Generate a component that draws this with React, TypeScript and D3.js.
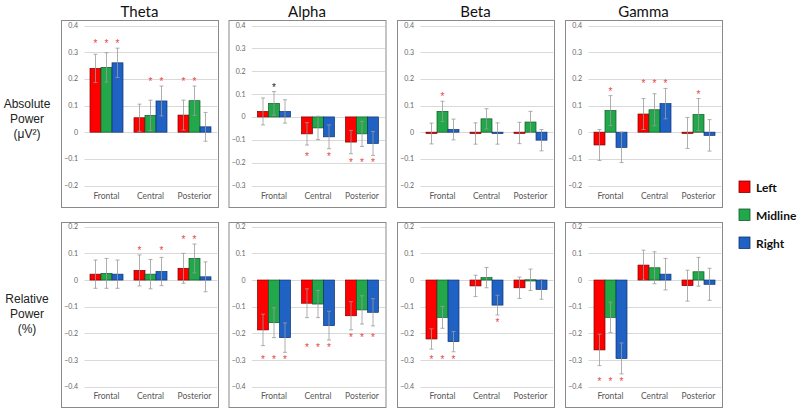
import React from "react";
import * as d3 from "d3";

const bands = ["Theta", "Alpha", "Beta", "Gamma"];
const regions = ["Frontal", "Central", "Posterior"];
const hemis = ["Left", "Midline", "Right"];
const hemiColors = ["#ff0000", "#22a84a", "#1f62c4"];
const hemiStroke = ["#7a0000", "#0f5a27", "#0f336e"];

// values ordered Frontal(L,M,R), Central(L,M,R), Posterior(L,M,R)
const absTheta = [0.239, 0.243, 0.26, 0.054, 0.063, 0.117, 0.064, 0.118, 0.02];
const absThetaErr = [0.053, 0.055, 0.055, 0.051, 0.057, 0.056, 0.056, 0.055, 0.054];
const absThetaSig = ["*", "*", "*", "", "*", "*", "*", "*", ""];

const absAlpha = [0.024, 0.059, 0.024, -0.074, -0.048, -0.087, -0.11, -0.074, -0.116];
const absAlphaErr = [0.059, 0.052, 0.051, 0.049, 0.051, 0.052, 0.051, 0.055, 0.052];
const absAlphaSig = ["", "#", "", "*", "", "*", "*", "*", "*"];

const absBeta = [-0.005, 0.078, 0.01, -0.005, 0.05, -0.005, -0.003, 0.038, -0.03];
const absBetaErr = [0.039, 0.038, 0.039, 0.04, 0.038, 0.04, 0.04, 0.04, 0.04];
const absBetaSig = ["", "*", "", "", "", "", "", "", ""];

const absGamma = [-0.048, 0.081, -0.057, 0.068, 0.084, 0.107, -0.003, 0.066, -0.012];
const absGammaErr = [0.058, 0.056, 0.057, 0.058, 0.06, 0.057, 0.058, 0.06, 0.059];
const absGammaSig = ["", "*", "", "*", "*", "*", "", "*", ""];

const relTheta = [0.022, 0.025, 0.022, 0.036, 0.022, 0.032, 0.044, 0.081, 0.012];
const relThetaErr = [0.053, 0.056, 0.053, 0.058, 0.055, 0.053, 0.056, 0.054, 0.056];
const relThetaSig = ["", "", "", "*", "", "*", "*", "*", ""];

const relAlpha = [-0.187, -0.16, -0.216, -0.087, -0.09, -0.171, -0.134, -0.112, -0.121];
const relAlphaErr = [0.059, 0.056, 0.055, 0.054, 0.051, 0.054, 0.053, 0.053, 0.051];
const relAlphaSig = ["*", "*", "*", "*", "*", "*", "*", "*", "*"];

const relBeta = [-0.221, -0.14, -0.231, -0.022, 0.009, -0.094, -0.029, 0.001, -0.035];
const relBetaErr = [0.038, 0.041, 0.038, 0.04, 0.038, 0.037, 0.04, 0.04, 0.037];
const relBetaSig = ["*", "*", "*", "", "", "*", "", "", ""];

const relGamma = [-0.262, -0.14, -0.294, 0.056, 0.046, 0.022, -0.021, 0.031, -0.016];
const relGammaErr = [0.059, 0.057, 0.058, 0.056, 0.06, 0.059, 0.058, 0.054, 0.06];
const relGammaSig = ["*", "*", "*", "", "", "", "", "", ""];

const absDomains = [[-0.2, 0.4], [-0.3, 0.4], [-0.2, 0.4], [-0.2, 0.4]];
const relDomain = [-0.4, 0.2];

const absRow = [
  [absTheta, absThetaErr, absThetaSig],
  [absAlpha, absAlphaErr, absAlphaSig],
  [absBeta, absBetaErr, absBetaSig],
  [absGamma, absGammaErr, absGammaSig],
];
const relRow = [
  [relTheta, relThetaErr, relThetaSig],
  [relAlpha, relAlphaErr, relAlphaSig],
  [relBeta, relBetaErr, relBetaSig],
  [relGamma, relGammaErr, relGammaSig],
];

const fmt = (v: number) => (Math.abs(v) < 1e-9 ? "0" : d3.format(".1f")(v));

function Panel({ x0, top, bottom, yTop, yBot, domain, vals, errs, sigs }: any) {
  const boxW = 157;
  const plotL = x0 + 23.5;
  const plotR = x0 + 155.5;
  const y = d3.scaleLinear().domain(domain).range([yBot, yTop]);
  const xb = d3.scaleBand().domain(regions).range([plotL, plotR]).padding(0);
  const xs = d3.scaleBand().domain(hemis).range([0, xb.bandwidth()]).paddingOuter(0.5).paddingInner(0);
  const ticks = d3.range(Math.round(domain[0] * 10), Math.round(domain[1] * 10) + 1).map((d) => d / 10);

  const items = regions.flatMap((r, ri) =>
    hemis.map((h, hi) => {
      const k = ri * 3 + hi;
      return { r, ri, h, hi, v: vals[k], e: errs[k], s: sigs[k] };
    })
  );

  // asterisk rows per region
  const starY: Record<string, number> = {};
  regions.forEach((r) => {
    const flagged = items.filter((it) => it.r === r && it.s);
    if (!flagged.length) return;
    const pos = flagged.filter((f) => f.v >= 0);
    const neg = flagged.filter((f) => f.v < 0);
    if (pos.length) starY[r + "+"] = d3.min(pos, (f) => y(f.v + f.e))! - 6;
    if (neg.length) starY[r + "-"] = d3.max(neg, (f) => y(f.v - f.e))! + 6;
  });

  return (
    <g>
      <rect x={x0 + 0.5} y={top + 0.5} width={boxW} height={bottom - top} fill="#fff" stroke="#8a8a8a" strokeWidth={1} />
      {ticks.map((t) => (
        <g key={t}>
          <line x1={plotL} x2={x0 + boxW - 0.5} y1={Math.round(y(t)) + 0.5} y2={Math.round(y(t)) + 0.5} stroke="#d9d9d9" strokeWidth={1} />
          <text x={x0 + 17} y={y(t) + 2.5} textAnchor="end" fontSize={7} fill="#666" fontFamily="Lato, sans-serif">
            {fmt(t)}
          </text>
        </g>
      ))}
      {regions.map((r) => (
        <text key={r} x={xb(r)! + xb.bandwidth() / 2} y={bottom - 8} textAnchor="middle" fontSize={8.5} fill="#595959" fontFamily="Lato, sans-serif">
          {r}
        </text>
      ))}
      {items.map((it) => {
        const bx = xb(it.r)! + xs(it.h)!;
        const y0 = y(0);
        const y1 = y(it.v);
        return (
          <rect
            key={"b" + it.r + it.h}
            x={bx}
            y={Math.min(y0, y1)}
            width={xs.bandwidth()}
            height={Math.max(1.2, Math.abs(y1 - y0))}
            fill={hemiColors[it.hi]}
            stroke={hemiStroke[it.hi]}
            strokeWidth={0.7}
          />
        );
      })}
      {items.map((it) => {
        const cx = xb(it.r)! + xs(it.h)! + xs.bandwidth() / 2;
        const ya = y(it.v + it.e);
        const yb = y(it.v - it.e);
        return (
          <g key={"e" + it.r + it.h} stroke="#9a9a9a" strokeWidth={0.8}>
            <line x1={cx} x2={cx} y1={ya} y2={yb} />
            <line x1={cx - 2} x2={cx + 2} y1={ya} y2={ya} />
            <line x1={cx - 2} x2={cx + 2} y1={yb} y2={yb} />
          </g>
        );
      })}
      {items
        .filter((it) => it.s)
        .map((it) => {
          const cx = xb(it.r)! + xs(it.h)! + xs.bandwidth() / 2;
          const cy = starY[it.r + (it.v >= 0 ? "+" : "-")];
          return (
            <text
              key={"s" + it.r + it.h}
              x={cx}
              y={cy + 5}
              textAnchor="middle"
              fontSize={10}
              fill={it.s === "#" ? "#222" : "#e8453c"}
              fontFamily="Liberation Sans, Arial, sans-serif"
            >
              *
            </text>
          );
        })}
    </g>
  );
}

export default function App() {
  const boxX = [61, 228.5, 397, 565];
  return (
    <svg width={800} height={410} style={{ position: "absolute", left: 0, top: 0, background: "#fff" }}>
      <rect width={800} height={410} fill="#fff" />
      {bands.map((b, i) => (
        <text key={b} x={boxX[i] + 78.5} y={17} textAnchor="middle" fontSize={15} fill="#111" fontFamily="Lato, sans-serif">
          {b}
        </text>
      ))}
      {bands.map((b, i) => (
        <Panel
          key={"a" + b}
          x0={boxX[i]}
          top={20}
          bottom={207}
          yTop={25.5}
          yBot={185.5}
          domain={absDomains[i]}
          vals={absRow[i][0]}
          errs={absRow[i][1]}
          sigs={absRow[i][2]}
        />
      ))}
      {bands.map((b, i) => (
        <Panel
          key={"r" + b}
          x0={boxX[i]}
          top={222}
          bottom={407}
          yTop={226.7}
          yBot={386.7}
          domain={relDomain}
          vals={relRow[i][0]}
          errs={relRow[i][1]}
          sigs={relRow[i][2]}
        />
      ))}
      <g fontFamily="Liberation Sans, Arial, sans-serif" fontSize={12} fill="#222" textAnchor="middle">
        <text x={27} y={108}>Absolute</text>
        <text x={27} y={123}>Power</text>
        <text x={27} y={138}>(μV²)</text>
        <text x={27} y={303}>Relative</text>
        <text x={27} y={318}>Power</text>
        <text x={27} y={333}>(%)</text>
      </g>
      {hemis.map((h, i) => (
        <g key={h}>
          <rect x={739} y={181 + i * 28} width={11} height={11.5} fill={hemiColors[i]} stroke={hemiStroke[i]} strokeWidth={0.8} />
          <text x={756} y={191.5 + i * 28} fontSize={12} fontWeight="bold" fill="#111" fontFamily="Lato, sans-serif">
            {h}
          </text>
        </g>
      ))}
    </svg>
  );
}
